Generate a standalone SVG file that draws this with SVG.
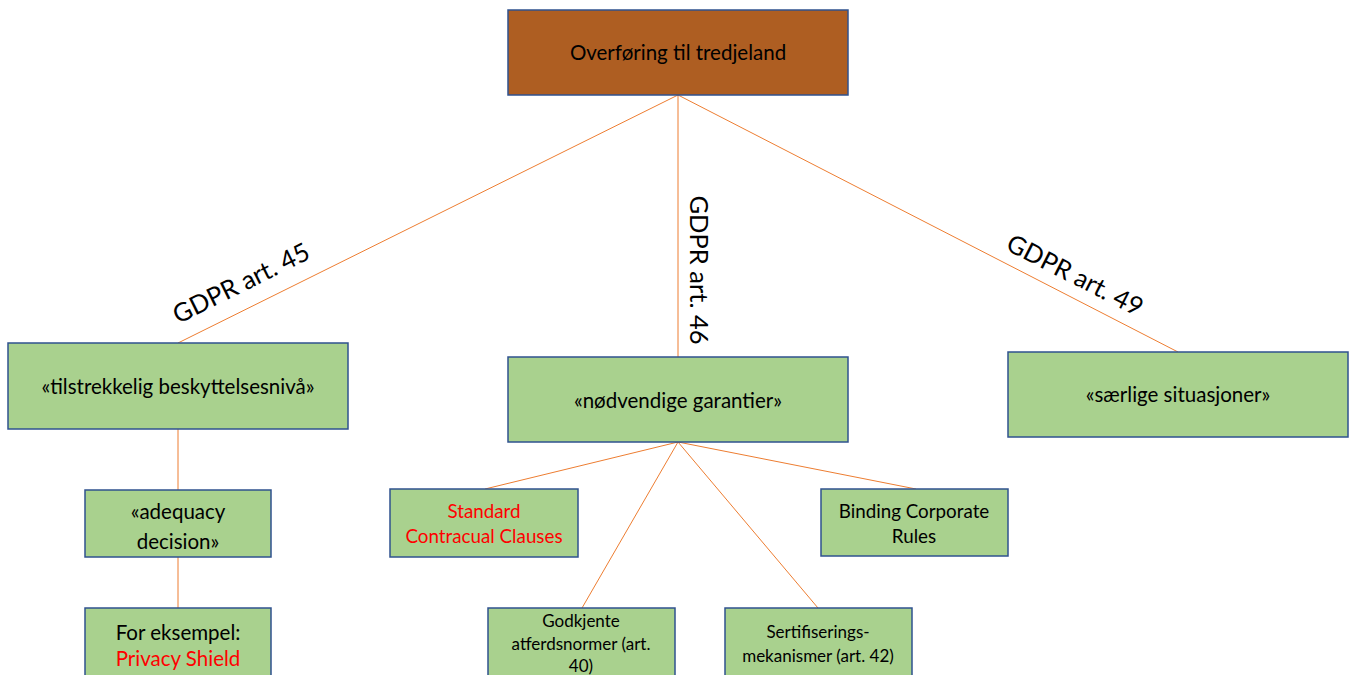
<svg xmlns="http://www.w3.org/2000/svg" width="1353" height="675" viewBox="0 0 1353 675">
<style>
.box{fill:#A9D18E;stroke:#2F528F;stroke-width:1.5}
.top{fill:#AE5E22;stroke:#2F528F;stroke-width:1.5}
.t{font-family:Lato,"Liberation Sans",sans-serif;fill:#000;text-anchor:middle}
.r{fill:#FF0000}
.c{stroke:#ED7D31;stroke-width:1;fill:none}
</style>
<rect width="1353" height="675" fill="#fff"/>
<g id="connectors">
<line class="c" x1="678" y1="95" x2="178" y2="343"/>
<line class="c" x1="678" y1="95" x2="678" y2="357"/>
<line class="c" x1="678" y1="95" x2="1178" y2="352"/>
<line class="c" x1="178" y1="429" x2="178" y2="490"/>
<line class="c" x1="178" y1="557" x2="178" y2="608"/>
<line class="c" x1="678" y1="442" x2="485" y2="489"/>
<line class="c" x1="678" y1="442" x2="916" y2="489"/>
<line class="c" x1="678" y1="442" x2="582" y2="608"/>
<line class="c" x1="678" y1="442" x2="818" y2="608"/>
<text class="t" font-size="25.5" transform="translate(245,291) rotate(-26.4)">GDPR art. 45</text>
<text class="t" font-size="25.5" transform="translate(690,270) rotate(90)">GDPR art. 46</text>
<text class="t" font-size="25.5" transform="translate(1071,283) rotate(27)">GDPR art. 49</text>
</g>
<g id="n-top"><rect class="top" x="508" y="10" width="340" height="85"/><text class="t" font-size="20.5" x="678" y="60">Overføring til tredjeland</text></g>
<g id="n-tilstrekkelig"><rect class="box" x="8" y="343" width="340" height="86"/><text class="t" font-size="20.5" x="178" y="394">«tilstrekkelig beskyttelsesnivå»</text></g>
<g id="n-nodvendige"><rect class="box" x="508" y="357" width="340" height="85"/><text class="t" font-size="20.5" x="678" y="408">«nødvendige garantier»</text></g>
<g id="n-saerlige"><rect class="box" x="1008" y="352" width="340" height="85"/><text class="t" font-size="20.5" x="1178" y="402">«særlige situasjoner»</text></g>
<g id="n-adequacy"><rect class="box" x="85" y="490" width="186" height="67"/><text class="t" font-size="20.5" x="178" y="519">«adequacy</text><text class="t" font-size="20.5" x="178" y="549">decision»</text></g>
<g id="n-eksempel"><rect class="box" x="85" y="608" width="186" height="80"/><text class="t" font-size="20.5" x="178" y="640">For eksempel:</text><text class="t r" font-size="20.5" x="178" y="666">Privacy Shield</text></g>
<g id="n-scc"><rect class="box" x="390" y="489" width="188" height="68"/><text class="t r" font-size="18.8" x="484" y="518">Standard</text><text class="t r" font-size="18.8" x="484" y="543">Contracual Clauses</text></g>
<g id="n-bcr"><rect class="box" x="821" y="489" width="187" height="67"/><text class="t" font-size="18.8" x="914" y="518">Binding Corporate</text><text class="t" font-size="18.8" x="914" y="543">Rules</text></g>
<g id="n-godkjente"><rect class="box" x="488" y="608" width="187" height="80"/><text class="t" font-size="17" x="581" y="627">Godkjente</text><text class="t" font-size="17" x="581" y="650">atferdsnormer (art.</text><text class="t" font-size="17" x="581" y="672">40)</text></g>
<g id="n-sertifisering"><rect class="box" x="725" y="608" width="187" height="80"/><text class="t" font-size="17" x="818" y="638">Sertifiserings-</text><text class="t" font-size="17" x="818" y="662">mekanismer (art. 42)</text></g>
</svg>
